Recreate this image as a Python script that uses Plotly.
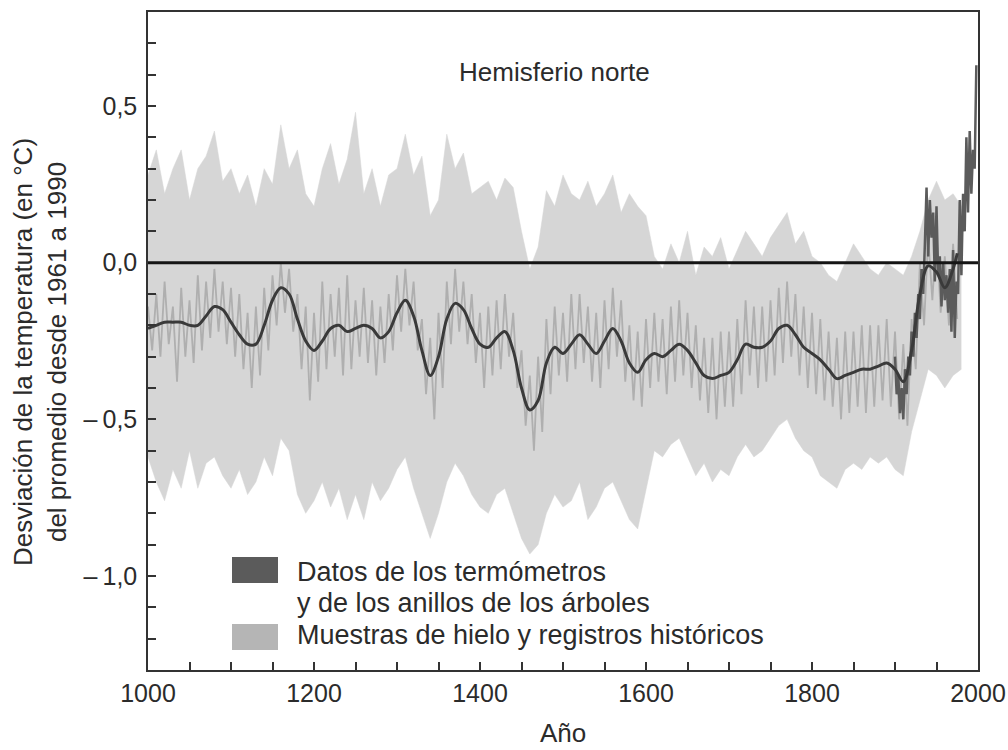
import plotly.graph_objects as go

# ---------------------------------------------------------------------------
# Data (temperature anomaly, deg C, relative to the 1961-1990 mean)
# ---------------------------------------------------------------------------

# Uncertainty envelope of the proxy reconstruction, decadal
band_years = list(range(1000, 1990, 10))
band_upper = [
    0.28, 0.36, 0.22, 0.30, 0.36, 0.20, 0.30, 0.34, 0.42, 0.26,
    0.30, 0.22, 0.28, 0.18, 0.30, 0.25, 0.44, 0.30, 0.36, 0.22,
    0.18, 0.30, 0.38, 0.25, 0.33, 0.48, 0.22, 0.30, 0.18, 0.28,
    0.30, 0.41, 0.28, 0.34, 0.15, 0.20, 0.41, 0.30, 0.35, 0.22,
    0.24, 0.26, 0.20, 0.27, 0.24, 0.10, -0.02, 0.05, 0.23, 0.18,
    0.28, 0.22, 0.20, 0.26, 0.18, 0.22, 0.28, 0.16, 0.22, 0.18,
    0.15, 0.02, -0.02, 0.06, 0.00, 0.10, -0.04, 0.05, 0.02, 0.08,
    -0.02, 0.04, 0.10, 0.06, 0.02, 0.08, 0.12, 0.16, 0.06, 0.10,
    0.02, 0.00, -0.04, -0.06, 0.00, 0.06, 0.02, -0.02, -0.04, 0.00,
    -0.02, -0.04, 0.02, 0.10, 0.20, 0.26, 0.20, 0.22, 0.18,
]
band_lower = [
    -0.62, -0.70, -0.76, -0.66, -0.72, -0.60, -0.72, -0.64, -0.62, -0.68,
    -0.72, -0.66, -0.74, -0.70, -0.62, -0.68, -0.56, -0.60, -0.74, -0.80,
    -0.76, -0.70, -0.78, -0.72, -0.82, -0.74, -0.82, -0.70, -0.76, -0.72,
    -0.66, -0.62, -0.72, -0.80, -0.88, -0.80, -0.70, -0.64, -0.68, -0.74,
    -0.78, -0.80, -0.74, -0.72, -0.80, -0.88, -0.93, -0.90, -0.80, -0.74,
    -0.78, -0.76, -0.70, -0.82, -0.78, -0.72, -0.70, -0.76, -0.82, -0.85,
    -0.72, -0.60, -0.62, -0.58, -0.56, -0.62, -0.68, -0.64, -0.70, -0.66,
    -0.68, -0.62, -0.58, -0.62, -0.60, -0.56, -0.52, -0.50, -0.56, -0.60,
    -0.62, -0.68, -0.70, -0.72, -0.66, -0.64, -0.66, -0.62, -0.64, -0.62,
    -0.66, -0.68, -0.54, -0.44, -0.34, -0.36, -0.40, -0.36, -0.34,
]

# Proxy reconstruction (ice cores, tree rings, historical records), 5-year steps
proxy_years = list(range(1000, 1980, 5))
proxy_values = [
    -0.14, -0.28, -0.10, -0.30, -0.06, -0.26, -0.14, -0.38, -0.08, -0.30,
    -0.12, -0.32, -0.04, -0.28, -0.06, -0.24, -0.02, -0.22, -0.06, -0.26,
    -0.08, -0.30, -0.10, -0.34, -0.16, -0.40, -0.14, -0.36, -0.08, -0.28,
    -0.04, -0.20, 0.00, -0.16, -0.02, -0.22, -0.10, -0.34, -0.14, -0.44,
    -0.16, -0.38, -0.06, -0.34, -0.10, -0.30, -0.08, -0.36, -0.04, -0.34,
    -0.12, -0.30, -0.08, -0.32, -0.12, -0.36, -0.14, -0.32, -0.10, -0.28,
    -0.04, -0.22, -0.02, -0.20, -0.06, -0.28, -0.18, -0.42, -0.24, -0.50,
    -0.16, -0.40, -0.06, -0.26, -0.02, -0.22, -0.06, -0.26, -0.10, -0.32,
    -0.16, -0.40, -0.14, -0.36, -0.12, -0.34, -0.10, -0.30, -0.16, -0.40,
    -0.28, -0.52, -0.36, -0.60, -0.30, -0.54, -0.18, -0.42, -0.14, -0.36,
    -0.16, -0.38, -0.10, -0.34, -0.10, -0.32, -0.14, -0.38, -0.16, -0.40,
    -0.12, -0.34, -0.08, -0.30, -0.12, -0.38, -0.20, -0.44, -0.22, -0.46,
    -0.18, -0.40, -0.16, -0.38, -0.18, -0.42, -0.14, -0.38, -0.12, -0.36,
    -0.16, -0.40, -0.20, -0.44, -0.24, -0.48, -0.24, -0.50, -0.22, -0.46,
    -0.22, -0.46, -0.18, -0.42, -0.12, -0.36, -0.14, -0.40, -0.14, -0.38,
    -0.12, -0.36, -0.08, -0.32, -0.06, -0.30, -0.10, -0.36, -0.14, -0.40,
    -0.16, -0.42, -0.18, -0.44, -0.22, -0.46, -0.24, -0.50, -0.22, -0.48,
    -0.22, -0.46, -0.20, -0.48, -0.20, -0.46, -0.20, -0.44, -0.18, -0.46,
    -0.22, -0.50, -0.26, -0.52, -0.18, -0.34, 0.00, -0.20, 0.08, -0.12,
    0.10, -0.16, 0.02, -0.20, 0.06, -0.18,
]

# Smoothed reconstruction (40-year filter)
smooth_years = list(range(1000, 1980, 10)) + [1975]
smooth_years = sorted(set(smooth_years))
smooth_values = [
    -0.21, -0.20, -0.19, -0.19, -0.19, -0.20, -0.20, -0.17, -0.14, -0.15,
    -0.19, -0.23, -0.26, -0.26, -0.20, -0.12, -0.08, -0.10, -0.18, -0.25,
    -0.28, -0.25, -0.21, -0.20, -0.22, -0.21, -0.20, -0.21, -0.24, -0.22,
    -0.16, -0.12, -0.17, -0.28, -0.36, -0.30, -0.18, -0.13, -0.15, -0.21,
    -0.26, -0.27, -0.24, -0.22, -0.28, -0.40, -0.47, -0.44, -0.32, -0.27,
    -0.29, -0.26, -0.23, -0.26, -0.29, -0.25, -0.21, -0.25, -0.32, -0.35,
    -0.31, -0.29, -0.30, -0.28, -0.26, -0.28, -0.32, -0.36, -0.37, -0.36,
    -0.35, -0.31, -0.26, -0.27, -0.27, -0.25, -0.21, -0.20, -0.23, -0.27,
    -0.29, -0.31, -0.34, -0.37, -0.36, -0.35, -0.34, -0.34, -0.33, -0.32,
    -0.34, -0.38, -0.28, -0.10, -0.01, -0.03, -0.08, -0.02, 0.03,
]

# Thermometer and tree-ring record, 2-year steps
instr_years = list(range(1900, 2000, 2))
instr_values = [
    -0.30, -0.42, -0.36, -0.48, -0.40, -0.50, -0.34, -0.42, -0.30, -0.36,
    -0.22, -0.30, -0.16, -0.24, -0.10, -0.18, -0.02, -0.10, 0.06, 0.24,
    0.02, 0.20, 0.08, 0.16, -0.06, 0.18, -0.04, 0.02, -0.14, 0.00,
    -0.12, -0.04, -0.16, -0.02, -0.22, 0.04, -0.24, -0.06, -0.10, 0.20,
    -0.04, 0.22, 0.10, 0.40, 0.16, 0.42, 0.22, 0.36, 0.30, 0.63,
]

# Axis ticks
x_tick_vals = list(range(1000, 2001, 50))
x_tick_text = [str(v) if v % 200 == 0 else "" for v in x_tick_vals]
y_tick_tenths = list(range(-12, 8))
y_tick_vals = [t / 10 for t in y_tick_tenths]
y_label_map = {5: "0,5", 0: "0,0", -5: "\u2013\u20090,5", -10: "\u2013\u20091,0"}
y_tick_text = [y_label_map.get(t, "") for t in y_tick_tenths]

title_text = "Hemisferio norte"
y_title_lines = ["Desviación de la temperatura (en °C)", "del promedio desde 1961 a 1990"]
x_title_text = "Año"
legend_labels = [
    "Datos de los termómetros",
    "y de los anillos de los árboles",
    "Muestras de hielo y registros históricos",
]

# ---------------------------------------------------------------------------
# Styling
# ---------------------------------------------------------------------------
W, H = 1008, 750
ML, MR, MT, MB = 148, 30, 12, 80
PW, PH = W - ML - MR, H - MT - MB
FONT = "Liberation Sans, Arial, sans-serif"
TXT = "#2b2b2b"
LIGHT = "#d6d6d6"
MEDIUM = "#afafaf"
DARK = "#5b5b5b"
SMOOTH = "#3a3a3a"


def px_x(px):
    return (px - ML) / PW


def px_y(py):
    return (H - MB - py) / PH


fig = go.Figure()

# light uncertainty envelope
fig.add_trace(go.Scatter(x=band_years, y=band_upper, mode="lines",
                         line=dict(color=LIGHT, width=0.5), hoverinfo="skip",
                         showlegend=False))
fig.add_trace(go.Scatter(x=band_years, y=band_lower, mode="lines",
                         line=dict(color=LIGHT, width=0.5), fill="tonexty",
                         fillcolor=LIGHT, hoverinfo="skip", showlegend=False))

# proxy reconstruction
fig.add_trace(go.Scatter(x=proxy_years, y=proxy_values, mode="lines",
                         line=dict(color=MEDIUM, width=1.8), showlegend=False))

# instrumental record
fig.add_trace(go.Scatter(x=instr_years, y=instr_values, mode="lines",
                         line=dict(color=DARK, width=2.5), showlegend=False))

# smoothed curve
fig.add_trace(go.Scatter(x=smooth_years, y=smooth_values, mode="lines",
                         line=dict(color=SMOOTH, width=3, shape="spline", smoothing=1.0),
                         showlegend=False))

annotations = [
    dict(text=title_text, x=px_x(554), y=px_y(72), xref="paper", yref="paper",
         showarrow=False, xanchor="center", yanchor="middle",
         font=dict(family=FONT, size=26, color=TXT)),
    dict(text="<br>".join(y_title_lines), x=px_x(40), y=px_y(352),
         xref="paper", yref="paper", showarrow=False, textangle=-90,
         xanchor="center", yanchor="middle",
         font=dict(family=FONT, size=26, color=TXT)),
    dict(text=x_title_text, x=px_x(563), y=px_y(733), xref="paper", yref="paper",
         showarrow=False, xanchor="center", yanchor="middle",
         font=dict(family=FONT, size=26, color=TXT)),
]
legend_rows = [572, 603, 635]
for label, row in zip(legend_labels, legend_rows):
    annotations.append(dict(text=label, x=px_x(295), y=px_y(row), xref="paper",
                            yref="paper", showarrow=False, xanchor="left",
                            yanchor="middle",
                            font=dict(family=FONT, size=27, color=TXT)))

axis_common = dict(showgrid=False, zeroline=False, showline=True, mirror=True,
                   linecolor="#333333", linewidth=1.5, ticks="inside",
                   ticklen=8, tickwidth=1.5, tickcolor="#333333",
                   automargin=False,
                   tickfont=dict(family=FONT, size=25, color=TXT))

fig.update_layout(
    width=W, height=H,
    margin=dict(l=ML, r=MR, t=MT, b=MB, pad=0, autoexpand=False),
    paper_bgcolor="white", plot_bgcolor="white",
    showlegend=False,
    xaxis=dict(range=[1000, 2000], tickmode="array", tickvals=x_tick_vals,
               ticktext=x_tick_text, **axis_common),
    yaxis=dict(range=[-1.3, 0.8], tickmode="array", tickvals=y_tick_vals,
               ticktext=y_tick_text, ticklabelstandoff=4, **axis_common),
    annotations=annotations,
)

# zero reference line
fig.add_hline(y=0, line=dict(color="#151515", width=3))

# legend swatches
fig.add_shape(type="rect", xref="paper", yref="paper", x0=px_x(232), x1=px_x(278),
              y0=px_y(583), y1=px_y(557), fillcolor=DARK, line=dict(width=0))
fig.add_shape(type="rect", xref="paper", yref="paper", x0=px_x(232), x1=px_x(278),
              y0=px_y(650), y1=px_y(624), fillcolor="#b5b5b5", line=dict(width=0))

fig.write_html("out.html")
